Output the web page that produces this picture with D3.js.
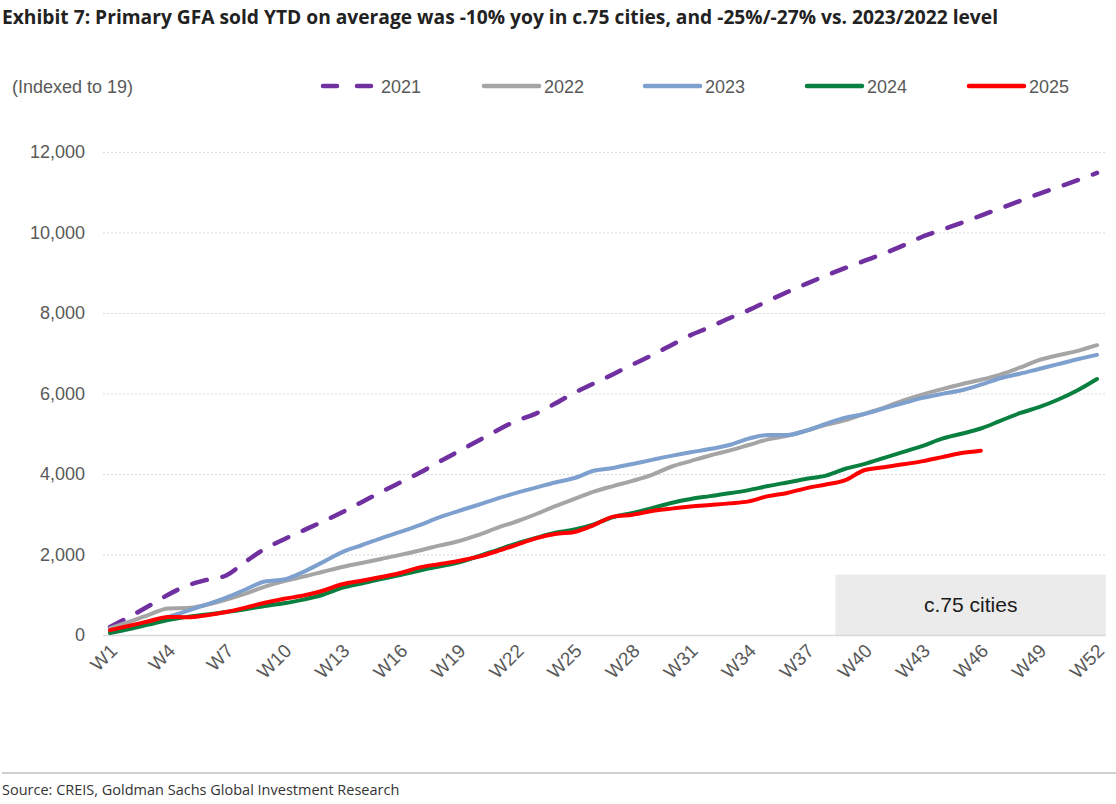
<!DOCTYPE html>
<html><head><meta charset="utf-8">
<script src="https://cdn.jsdelivr.net/npm/d3@7"></script>
<style>body{margin:0;background:#fff;}svg{display:block;}</style>
</head><body>
<script>
const weeks = d3.range(1, 53).map(i => "W" + i);
const tickLabels = weeks.filter((w, i) => i % 3 === 0);
const yTicks = [0, 2000, 4000, 6000, 8000, 10000, 12000];
const seriesNames = ["2021", "2022", "2023", "2024", "2025"];
const s2021 = [200,450,720,1000,1230,1370,1480,1820,2140,2380,2600,2820,3050,3300,3550,3790,4030,4300,4560,4820,5080,5320,5500,5750,6020,6250,6480,6720,6950,7200,7450,7650,7870,8070,8300,8520,8730,8930,9120,9300,9480,9680,9900,10070,10240,10420,10600,10780,10960,11130,11300,11480];
const s2022 = [170,330,500,660,670,750,880,1030,1200,1340,1450,1570,1690,1790,1890,1990,2100,2220,2330,2480,2660,2820,3000,3200,3380,3560,3700,3830,3980,4180,4320,4460,4580,4720,4860,4950,5080,5220,5340,5500,5650,5830,5980,6110,6230,6340,6470,6640,6830,6950,7060,7200];
const s2023 = [80,200,320,450,600,760,930,1130,1330,1380,1570,1810,2060,2230,2400,2560,2730,2920,3080,3230,3390,3530,3660,3790,3900,4080,4150,4250,4350,4450,4540,4620,4720,4880,4970,4970,5080,5250,5400,5490,5630,5760,5890,5990,6080,6220,6380,6490,6610,6730,6850,6960];
const s2024 = [50,150,260,370,450,510,570,640,720,790,880,1000,1170,1280,1390,1490,1600,1700,1800,1950,2110,2270,2410,2540,2620,2750,2930,3030,3150,3280,3380,3450,3520,3600,3700,3790,3880,3960,4130,4250,4400,4550,4700,4880,5000,5130,5320,5510,5660,5850,6080,6360];
const s2025 = [120,230,340,450,440,490,570,680,800,900,980,1100,1260,1350,1440,1540,1680,1760,1840,1940,2080,2240,2400,2510,2560,2730,2940,2990,3080,3140,3190,3230,3270,3320,3450,3530,3650,3740,3850,4100,4170,4240,4320,4420,4520,4580];
const seriesValues = [s2021, s2022, s2023, s2024, s2025];
const colors = ["#7030A0", "#A5A5A5", "#7DA0CF", "#0A8040", "#FF0000"];
const annotationText = "c.75 cities";
const boxStart = "W39";

const W = 1116, H = 804;
const svg = d3.select("body").append("svg").attr("width", W).attr("height", H);
const font = "'Liberation Sans', Arial, sans-serif";

svg.append("text").attr("x", 2).attr("y", 24)
  .attr("font-family", "'Open Sans', sans-serif").attr("font-weight", 700)
  .attr("font-size", 19).attr("fill", "#222")
  .attr("textLength", 996).attr("lengthAdjust", "spacingAndGlyphs")
  .text("Exhibit 7: Primary GFA sold YTD on average was -10% yoy in c.75 cities, and -25%/-27% vs. 2023/2022 level");

const plotL = 103, plotR = 1106;
const x = d3.scalePoint().domain(weeks).range([110, 1097]);
const y = d3.scaleLinear().domain([0, 12000]).range([635, 152]);

// annotation box
svg.append("rect").attr("x", x(boxStart) - 10).attr("y", y(1500))
  .attr("width", plotR - (x(boxStart) - 10)).attr("height", y(0) - y(1500))
  .attr("fill", "#EBEBEB");
svg.append("text").attr("x", (x(boxStart) - 10 + plotR) / 2).attr("y", (y(1500) + y(0)) / 2 + 7)
  .attr("text-anchor", "middle").attr("font-family", font).attr("font-size", 21).attr("fill", "#1a1a1a")
  .text(annotationText);

// grid
const yAxis = d3.axisLeft(y).tickValues(yTicks).tickSize(-(plotR - plotL)).tickFormat(d3.format(","));
const gy = svg.append("g").attr("transform", `translate(${plotL},0)`).call(yAxis);
gy.select(".domain").remove();
gy.selectAll(".tick line").attr("stroke", "#D9D9D9").attr("stroke-dasharray", "2,2")
  .filter(d => d === 0).attr("stroke-dasharray", null).attr("stroke-width", 1.5);
gy.selectAll(".tick text").attr("x", -18).attr("font-family", font).attr("font-size", 18).attr("fill", "#595959");

// x axis
const xAxis = d3.axisBottom(x).tickValues(tickLabels).tickSize(0);
const gx = svg.append("g").attr("transform", `translate(0,${y(0)})`).call(xAxis);
gx.select(".domain").remove();
gx.selectAll(".tick text").attr("font-family", font).attr("font-size", 19).attr("fill", "#595959")
  .attr("text-anchor", "end").attr("dy", 0).attr("y", 0)
  .attr("transform", "translate(8,17) rotate(-45)");

// lines
const line = d3.line().x((d, i) => x(weeks[i])).y(d => y(d)).curve(d3.curveMonotoneX);
seriesValues.forEach((vals, k) => {
  const p = svg.append("path").datum(vals).attr("d", line).attr("fill", "none")
    .attr("stroke", colors[k]).attr("stroke-width", k === 0 ? 4.5 : 4)
    .attr("stroke-linejoin", "round").attr("stroke-linecap", "round");
  if (k === 0) p.attr("stroke-dasharray", "15,16");
});

// legend
svg.append("text").attr("x", 12).attr("y", 93).attr("font-family", font).attr("font-size", 18)
  .attr("fill", "#595959").text("(Indexed to 19)");
const legX = [321, 484, 645, 807, 969];
seriesNames.forEach((n, k) => {
  const g = svg.append("g");
  const ln = g.append("line").attr("x1", legX[k]).attr("x2", legX[k] + 55).attr("y1", 86).attr("y2", 86)
    .attr("stroke", colors[k]).attr("stroke-width", 4.5).attr("stroke-linecap", "round");
  if (k === 0) ln.attr("x1", legX[k] + 2).attr("x2", legX[k] + 52).attr("stroke-dasharray", "14,20");
  g.append("text").attr("x", legX[k] + 60).attr("y", 93).attr("font-family", font).attr("font-size", 18)
    .attr("fill", "#595959").text(n);
});

// source
svg.append("line").attr("x1", 2).attr("x2", W).attr("y1", 773).attr("y2", 773)
  .attr("stroke", "#BFBFBF").attr("stroke-width", 1.5);
svg.append("text").attr("x", 2).attr("y", 795).attr("font-family", "'Open Sans', sans-serif")
  .attr("font-size", 14.5).attr("fill", "#333").text("Source: CREIS, Goldman Sachs Global Investment Research");
</script>
</body></html>
